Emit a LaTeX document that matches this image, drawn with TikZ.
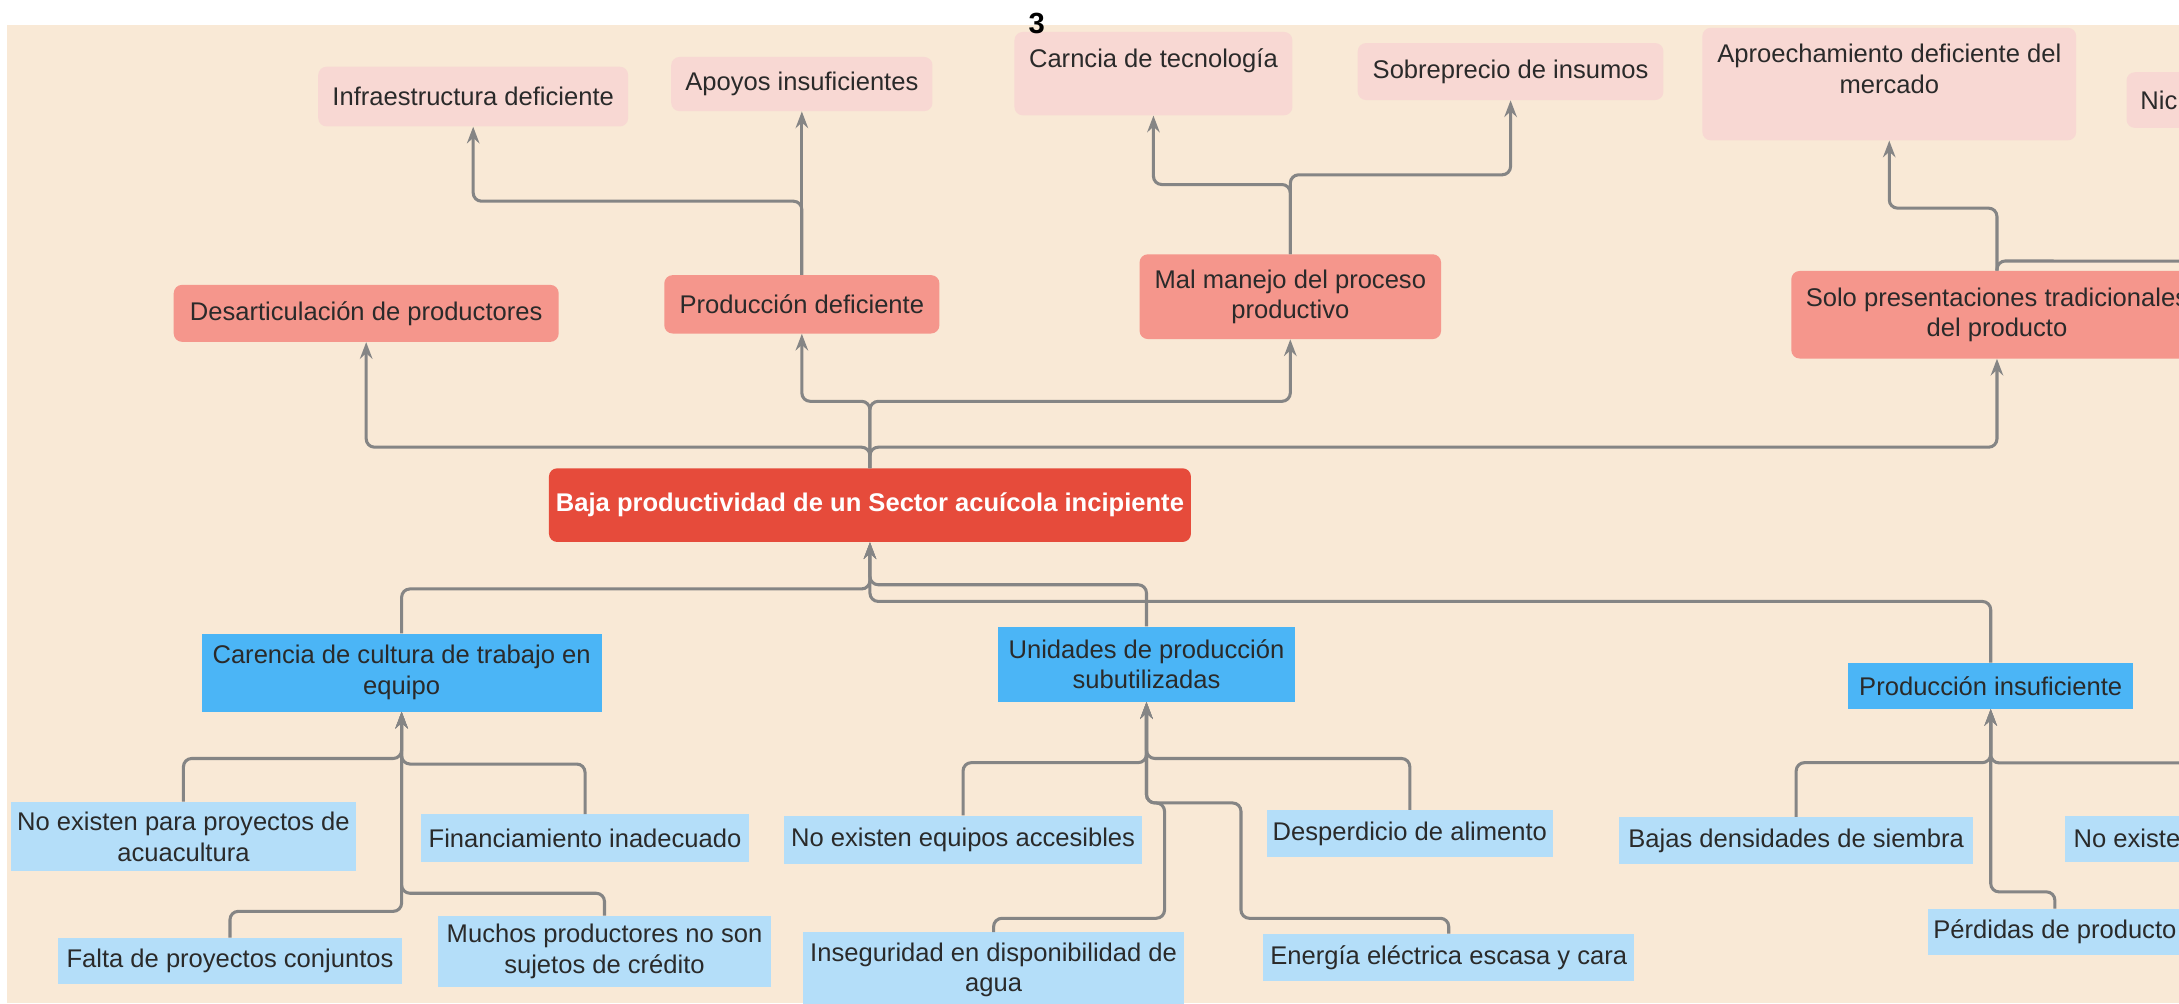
\documentclass[tikz,border=0pt]{standalone}
\usepackage{fontspec}
\setmainfont{Liberation Sans}
\usepackage{tikz}
\usetikzlibrary{shapes,arrows.meta}
\definecolor{bgBeige}{HTML}{F9E9D6}
\definecolor{pinkLight}{HTML}{F8D8D3}
\definecolor{salmon}{HTML}{F5968C}
\definecolor{coreRed}{HTML}{E64B3B}
\definecolor{blueMain}{HTML}{4BB5F6}
\definecolor{blueLight}{HTML}{B4DEF9}
\definecolor{lineGray}{HTML}{858585}
\definecolor{textDark}{HTML}{2A2A2A}
\tikzstyle{effectTop} = [rectangle, fill=pinkLight, rounded corners=6pt,
    text=textDark, align=center, inner sep=4pt]
\tikzstyle{effect} = [rectangle, fill=salmon, rounded corners=6pt,
    text=textDark, align=center, inner sep=4pt]
\tikzstyle{problem} = [rectangle, fill=coreRed, rounded corners=6pt, text=white,
    font=\fontsize{18.4}{22}\selectfont\bfseries, align=center]
\tikzstyle{cause} = [rectangle, fill=blueMain, text=textDark, align=center, inner sep=4pt]
\tikzstyle{subcause} = [rectangle, fill=blueLight, text=textDark, align=center, inner sep=4pt]
\tikzstyle{arrow} = [draw=lineGray, -{Stealth[length=12pt, width=9pt, inset=4pt]},
    line width=2.2pt, rounded corners=6pt]
\tikzstyle{line} = [draw=lineGray, line width=2.2pt, rounded corners=6pt]

\begin{document}
\begin{tikzpicture}[x=1pt, y=1pt, every node/.style={font=\fontsize{18.4}{22}\selectfont}]
      \useasboundingbox (0,0) rectangle (1568,722);
      \clip (0,0) rectangle (1568,722);
      \fill [white] (0,0) rectangle (1568,722);
      \fill [bgBeige] (5,0) rectangle (1568,704);

      % Place nodes
      \node [problem, minimum width=462pt, minimum height=53pt] (baja) at (626,358.5) {Baja productividad de un Sector acuícola incipiente};

      \node [effect, above of=baja, node distance=138pt, xshift=-362.5pt, minimum width=277pt, minimum height=41pt] (desart) {Desarticulación de productores};
      \node [effect, above of=baja, node distance=144.5pt, xshift=-49pt, minimum width=198pt, minimum height=42pt] (prodDef) {Producción deficiente};
      \node [effect, above of=baja, node distance=150pt, xshift=302.5pt, minimum width=217pt, minimum height=61pt] (malManejo) {Mal manejo del proceso\\productivo};
      \node [effect, above of=baja, node distance=137pt, xshift=811pt, minimum width=296pt, minimum height=63pt] (soloPres) {Solo presentaciones tradicionales\\del producto};

      \node [effectTop, above of=prodDef, node distance=149.5pt, xshift=-236.5pt, minimum width=223pt, minimum height=43pt] (infra) {Infraestructura deficiente};
      \node [effectTop, above of=prodDef, node distance=158.5pt, minimum width=188pt, minimum height=39pt] (apoyos) {Apoyos insuficientes};
      \node [effectTop, above of=malManejo, node distance=160.5pt, xshift=-98.5pt, minimum width=200pt, minimum height=60pt] (tecno) {Carncia de tecnología\\~};
      \node [effectTop, above of=malManejo, node distance=162pt, xshift=158.5pt, minimum width=220pt, minimum height=41pt] (sobreprecio) {Sobreprecio de insumos};
      \node [effectTop, above of=soloPres, node distance=166pt, xshift=-77.5pt, minimum width=269pt, minimum height=81pt] (mercado) {Aproechamiento deficiente del\\mercado\\~};
      \node [effectTop, anchor=west, inner xsep=10pt, minimum height=40pt] (nichos) at (1530,650) {Nich};

      \node [cause, below of=baja, node distance=120.5pt, xshift=-337pt, minimum width=288pt, minimum height=56pt] (cultura) {Carencia de cultura de trabajo en\\equipo};
      \node [cause, below of=baja, node distance=114.5pt, xshift=199pt, minimum width=214pt, minimum height=54pt] (unidades) {Unidades de producción\\subutilizadas};
      \node [cause, below of=baja, node distance=130pt, xshift=806.5pt, minimum width=205pt, minimum height=33pt] (prodInsuf) {Producción insuficiente};

      \node [subcause, below of=cultura, node distance=118pt, xshift=-157pt, minimum width=248pt, minimum height=50pt] (noProyectos) {No existen para proyectos de\\acuacultura};
      \node [subcause, below of=cultura, node distance=119pt, xshift=132pt, minimum width=236pt, minimum height=34pt] (financ) {Financiamiento inadecuado};
      \node [subcause, below of=cultura, node distance=207.5pt, xshift=-123.5pt, minimum width=247pt, minimum height=33pt] (conjuntos) {Falta de proyectos conjuntos};
      \node [subcause, below of=cultura, node distance=200.5pt, xshift=146pt, minimum width=240pt, minimum height=51pt] (credito) {Muchos productores no son\\sujetos de crédito};

      \node [subcause, below of=unidades, node distance=126.5pt, xshift=-132pt, minimum width=258pt, minimum height=35pt] (equipos) {No existen equipos accesibles};
      \node [subcause, below of=unidades, node distance=122pt, xshift=189.5pt, minimum width=205pt, minimum height=34pt] (alimento) {Desperdicio de alimento};
      \node [subcause, below of=unidades, node distance=220pt, xshift=-110pt, minimum width=274pt, minimum height=54pt] (agua) {Inseguridad en disponibilidad de\\agua};
      \node [subcause, below of=unidades, node distance=211pt, xshift=217.5pt, minimum width=267pt, minimum height=34pt] (energia) {Energía eléctrica escasa y cara};

      \node [subcause, below of=prodInsuf, node distance=111.5pt, xshift=-140pt, minimum width=255pt, minimum height=34pt] (siembra) {Bajas densidades de siembra};
      \node [subcause, anchor=west, inner xsep=6pt, minimum height=33pt] (noExiste) at (1486,118.5) {No existe};
      \node [subcause, anchor=west, minimum height=33pt] (perdidas) at (1387,51.5) {Pérdidas de producto};

      \node [font=\fontsize{21}{24}\selectfont\bfseries, text=black] (pagina) at (746,705) {3};

      \coordinate (nichosLink) at (1620,534);
      \coordinate (noExisteLink) at (1620,173);

      % effects
      \path [arrow] (baja.north) -- ++(0,15) -| (desart.south);
      \path [arrow] (baja.north) -- ++(0,15) -| (soloPres.south);
      \path [arrow] (baja.north) -- ++(0,48) -| (prodDef.south);
      \path [arrow] (baja.north) -- ++(0,48) -| (malManejo.south);

      \path [arrow] (prodDef.north) -- ++(0,53) -| (infra.south);
      \path [arrow] (prodDef.north) -- (apoyos.south);
      \path [arrow] (malManejo.north) -- ++(0,50) -| (tecno.south);
      \path [arrow] (malManejo.north) -- ++(0,57) -| (sobreprecio.south);
      \path [arrow] (soloPres.north) -- ++(0,45) -| (mercado.south);
      \path [line] (soloPres.north) -- ++(0,7) -- (nichosLink);

      % causes
      \path [arrow] (cultura.north) -- ++(0,32) -| (baja.south);
      \path [arrow] (unidades.north) -- ++(0,30) -| (baja.south);
      \path [arrow] (prodInsuf.north) -- ++(0,44) -| (baja.south);

      \path [arrow] (noProyectos.north) -- ++(0,31) -| (cultura.south);
      \path [arrow] (financ.north) -- ++(0,36) -| (cultura.south);
      \path [arrow] (conjuntos.north) -- ++(0,19) -| (cultura.south);
      \path [arrow] (credito.north) -- ++(0,16) -| (cultura.south);

      \path [arrow] (equipos.north) -- ++(0,38) -| (unidades.south);
      \path [arrow] (alimento.north) -- ++(0,37) -| (unidades.south);
      \path [arrow] (agua.north) -- ++(0,10) -| ++(123,83) -| (unidades.south);
      \path [arrow] (energia.north) -- ++(0,11) -| ++(-149.5,83) -| (unidades.south);

      \path [arrow] (siembra.north) -- ++(0,39) -| (prodInsuf.south);
      \path [arrow] (noExisteLink) -| (prodInsuf.south);
      \path [arrow] (perdidas.north) -- ++(0,12) -| (prodInsuf.south);
\end{tikzpicture}
\end{document}
